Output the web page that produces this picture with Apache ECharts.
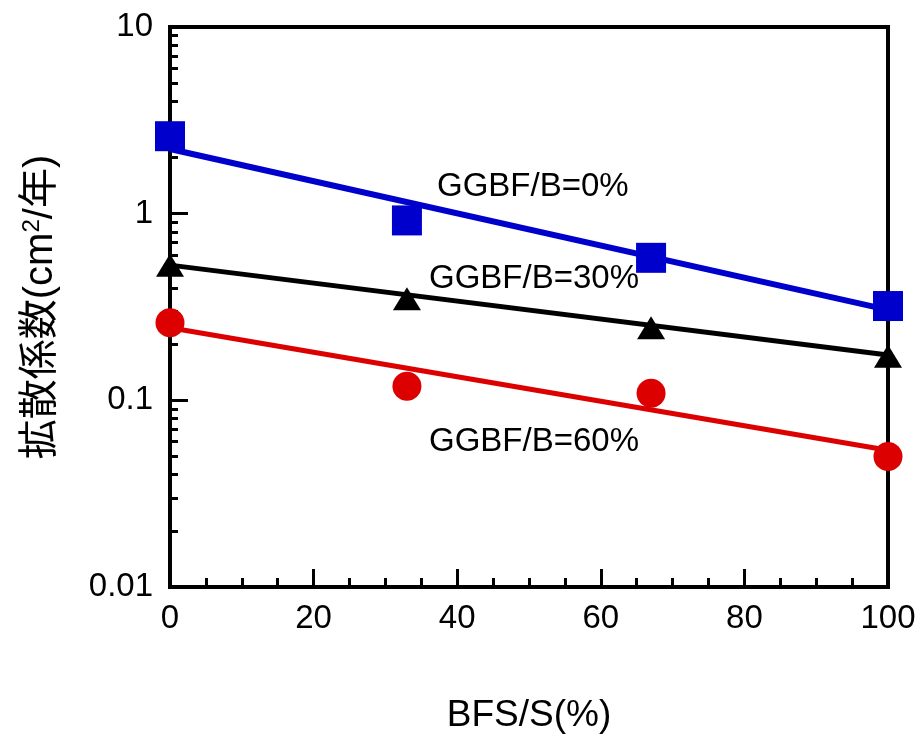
<!DOCTYPE html>
<html>
<head>
<meta charset="utf-8">
<script src="https://cdn.jsdelivr.net/npm/echarts@6/dist/echarts.min.js"></script>
<style>
  html, body { margin: 0; padding: 0; background: #fff; }
  #chart { width: 923px; height: 747px; }
</style>
</head>
<body>
<div id="chart"></div>
<script>
// BFS replacement ratio (%) of each mix
const bfsRatio = [0, 33, 67, 100];

// Measured diffusion coefficients (cm²/year) per GGBF/B ratio
const ggbf0  = [2.6, 0.92, 0.58, 0.32];
const ggbf30 = [0.53, 0.35, 0.245, 0.172];
const ggbf60 = [0.26, 0.119, 0.109, 0.05];

// Trend lines: value at BFS/S = 0 and 100
const trendX   = [0, 100];
const trend0   = [2.22, 0.305];
const trend30  = [0.53, 0.175];
const trend60  = [0.245, 0.054];

// Axis ticks
const yMajorTicks = [0.01, 0.1, 1, 10];
const yMinorTicks = [
  0.02, 0.03, 0.04, 0.05, 0.06, 0.07, 0.08, 0.09,
  0.2, 0.3, 0.4, 0.5, 0.6, 0.7, 0.8, 0.9,
  2, 3, 4, 5, 6, 7, 8, 9
];

const seriesNames = ['GGBF/B=0%', 'GGBF/B=30%', 'GGBF/B=60%'];

const BLUE = '#0000CC';
const RED = '#DD0000';
const BLACK = '#000000';
const FONT = '"Liberation Sans", Arial, "Noto Sans CJK JP", sans-serif';

const pairs = (xs, ys) => xs.map((x, i) => [x, ys[i]]);

const chart = echarts.init(document.getElementById('chart'), null, { renderer: 'canvas' });

chart.setOption({
  backgroundColor: '#fff',
  animation: false,
  grid: {
    left: 170, right: 35, top: 27, bottom: 160,
    show: true, borderColor: BLACK, borderWidth: 4, backgroundColor: 'transparent'
  },
  xAxis: {
    type: 'value', min: 0, max: 100, interval: 20,
    name: 'BFS/S(%)', nameLocation: 'middle', nameGap: 110,
    nameTextStyle: { fontFamily: FONT, fontSize: 37, color: BLACK },
    axisLine: { lineStyle: { color: BLACK, width: 4 } },
    axisTick: { inside: true, length: 18, lineStyle: { color: BLACK, width: 3 } },
    minorTick: { show: true, splitNumber: 4, length: 9, lineStyle: { color: BLACK, width: 3 } },
    axisLabel: { fontFamily: FONT, fontSize: 33, color: BLACK, margin: 15 },
    splitLine: { show: false }
  },
  yAxis: [
    {
      type: 'log', logBase: 10, min: 0.01, max: 10,
      name: '拡散係数(cm{sup|2}/年)', nameLocation: 'middle', nameGap: 108, nameRotate: 90,
      nameTextStyle: {
        fontFamily: FONT, fontSize: 40, color: BLACK,
        rich: { sup: { fontFamily: FONT, fontSize: 24, verticalAlign: 'top', color: BLACK, padding: [0, 0, 18, 0] } }
      },
      axisLine: { lineStyle: { color: BLACK, width: 4 } },
      axisTick: { inside: true, length: 18, customValues: yMajorTicks, lineStyle: { color: BLACK, width: 3 } },
      axisLabel: {
        fontFamily: FONT, fontSize: 33, color: BLACK, margin: 17,
        customValues: yMajorTicks,
        formatter: v => String(v)
      },
      splitLine: { show: false }
    },
    {
      type: 'log', logBase: 10, min: 0.01, max: 10, position: 'left',
      axisLine: { show: false },
      axisTick: { inside: true, length: 8, customValues: yMinorTicks, lineStyle: { color: BLACK, width: 3 } },
      axisLabel: { show: false },
      splitLine: { show: false }
    }
  ],
  graphic: [
    { type: 'text', left: 437, top: 170, style: { text: seriesNames[0], font: '33px ' + FONT, fill: BLACK } },
    { type: 'text', left: 429, top: 262, style: { text: seriesNames[1], font: '33px ' + FONT, fill: BLACK } },
    { type: 'text', left: 429, top: 425, style: { text: seriesNames[2], font: '33px ' + FONT, fill: BLACK } }
  ],
  series: [
    { type: 'line', data: pairs(trendX, trend0), showSymbol: false, lineStyle: { color: BLUE, width: 6 }, z: 2 },
    { type: 'line', data: pairs(trendX, trend30), showSymbol: false, lineStyle: { color: BLACK, width: 5 }, z: 2 },
    { type: 'line', data: pairs(trendX, trend60), showSymbol: false, lineStyle: { color: RED, width: 5 }, z: 2 },
    { name: seriesNames[0], type: 'scatter', data: pairs(bfsRatio, ggbf0), symbol: 'rect', symbolSize: 30, itemStyle: { color: BLUE, opacity: 1 }, z: 3 },
    { name: seriesNames[1], type: 'scatter', data: pairs(bfsRatio, ggbf30), symbol: 'triangle', symbolSize: [28, 23], itemStyle: { color: BLACK, opacity: 1 }, z: 3 },
    { name: seriesNames[2], type: 'scatter', data: pairs(bfsRatio, ggbf60), symbol: 'circle', symbolSize: 29, itemStyle: { color: RED, opacity: 1 }, z: 3 }
  ]
});
</script>
</body>
</html>
